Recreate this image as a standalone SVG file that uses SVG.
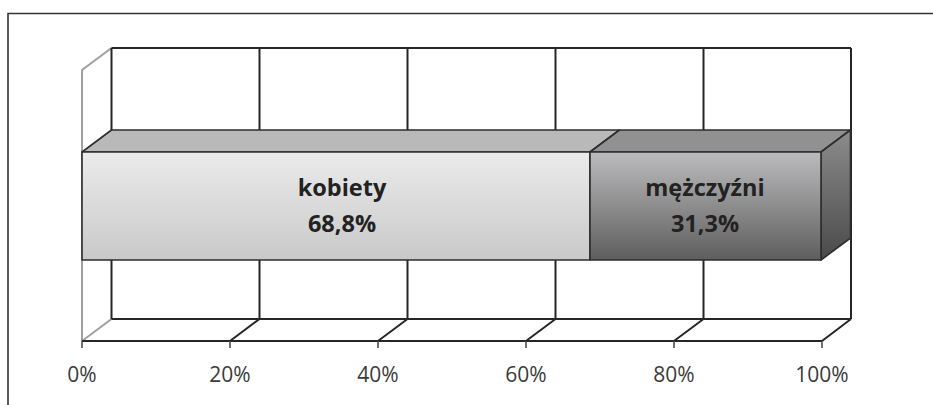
<svg xmlns="http://www.w3.org/2000/svg" width="933" height="405" viewBox="0 0 933 405">
<style>
.grid{stroke:#262626;stroke-width:2;fill:none}
.wall{stroke:#a0a0a0;stroke-width:2;fill:none}
.bar{stroke:#2e2e2e;stroke-width:1.6;stroke-linejoin:round}
.lbl{font-family:"Open Sans","Noto Sans",sans-serif;font-weight:bold;font-size:23.5px;fill:#222;text-anchor:middle}
.ax{font-family:"Open Sans","Noto Sans",sans-serif;font-size:21px;fill:#3a3a3a;text-anchor:middle}
</style>
<defs>
<linearGradient id="gK" x1="0" y1="0" x2="0" y2="1">
<stop offset="0" stop-color="#ebebeb"/><stop offset="1" stop-color="#c9c9c9"/>
</linearGradient>
<linearGradient id="gM" x1="0" y1="0" x2="0" y2="1">
<stop offset="0" stop-color="#bcbcbe"/><stop offset="1" stop-color="#5e5e5e"/>
</linearGradient>
<linearGradient id="gS" x1="0" y1="0" x2="0" y2="1">
<stop offset="0" stop-color="#8c8c8c"/><stop offset="1" stop-color="#4a4a4a"/>
</linearGradient>
</defs>
<rect width="933" height="405" fill="#ffffff"/>
<g id="frame">
<path d="M8 405 V13.5 H933" stroke="#333" stroke-width="1.6" fill="none"/>
</g>
<g id="axes">
<path class="wall" d="M82 341 V70 L111.5 48 M82 341 L111.5 319"/>
<path class="grid" d="M111.5 48 H851 M111.5 48 V319 M259.5 48 V319 M407.5 48 V319 M555.5 48 V319 M703.5 48 V319 M851 48 V319 M111.5 319 H851 M82 341 H822 M259.5 319 L230 341 M407.5 319 L378 341 M555.5 319 L526 341 M703.5 319 L674 341 M851 319 L822 341"/>
<path d="M82 341 V348 M230 341 V348 M378 341 V348 M526 341 V348 M674 341 V348 M822 341 V348" stroke="#444" stroke-width="1.5"/>
<text class="ax" x="82" y="382">0%</text>
<text class="ax" x="230" y="382">20%</text>
<text class="ax" x="378" y="382">40%</text>
<text class="ax" x="526" y="382">60%</text>
<text class="ax" x="674" y="382">80%</text>
<text class="ax" x="822" y="382">100%</text>
</g>
<g id="kobiety">
<polygon class="bar" points="82,152 111.5,130 619.5,130 590,152" fill="#b9b9b9"/>
<rect class="bar" x="82" y="152" width="508" height="108" fill="url(#gK)"/>
<text class="lbl" x="342" y="196">kobiety</text>
<text class="lbl" x="342" y="232">68,8%</text>
</g>
<g id="mezczyzni">
<polygon class="bar" points="590,152 619.5,130 850.5,130 821,152" fill="#919191"/>
<polygon class="bar" points="821,152 850.5,130 850.5,238 821,260" fill="url(#gS)"/>
<rect class="bar" x="590" y="152" width="231" height="108" fill="url(#gM)"/>
<text class="lbl" x="705" y="196">mężczyźni</text>
<text class="lbl" x="705" y="232">31,3%</text>
</g>
</svg>
